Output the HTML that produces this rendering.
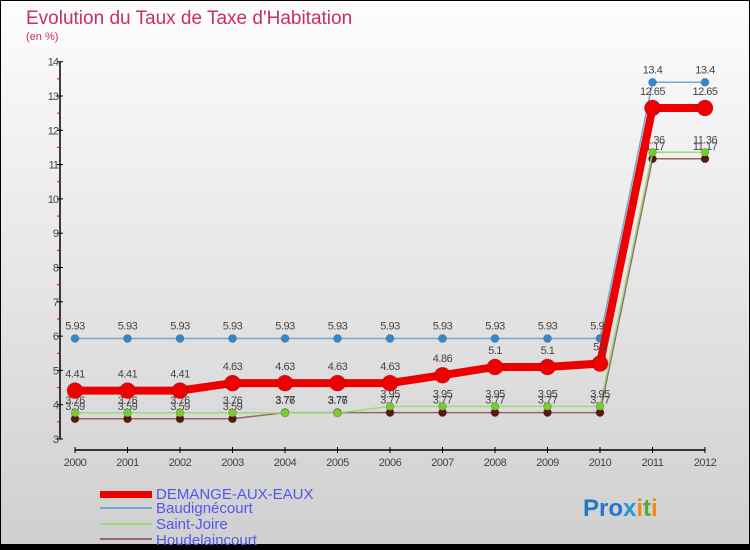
<!DOCTYPE html>
<html><head><meta charset="utf-8"><style>
body{margin:0;}
#wrap{width:750px;height:550px;position:relative;overflow:hidden;font-family:"Liberation Sans",sans-serif;}
</style></head><body>
<div id="wrap">
<svg id="chart" width="750" height="550" xmlns="http://www.w3.org/2000/svg">
<defs><linearGradient id="bg" x1="0" y1="0" x2="0" y2="1"><stop offset="0" stop-color="#fdfdfd"/><stop offset="1" stop-color="#cfcfcf"/></linearGradient></defs>
<rect x="0.5" y="0.5" width="749" height="549" fill="url(#bg)" stroke="#000"/>
<rect x="0" y="544" width="750" height="6" fill="#000"/>
<text x="26" y="24" font-size="19" fill="#c8305f">Evolution du Taux de Taxe d'Habitation</text>
<text x="26" y="40" font-size="11" fill="#c8305f">(en %)</text>
<g id="axes"></g><g id="series"></g>
<g>
<rect x="100" y="491" width="52" height="7" fill="#ee0000"/>
<text x="156" y="499" font-size="15" fill="#5555ee">DEMANGE-AUX-EAUX</text>
<line x1="100" y1="508" x2="152" y2="508" stroke="#7aa6cc" stroke-width="2"/>
<text x="156" y="513" font-size="15" fill="#5555ee">Baudignécourt</text>
<line x1="100" y1="524" x2="152" y2="524" stroke="#99dd77" stroke-width="2"/>
<text x="156" y="529" font-size="15" fill="#5555ee">Saint-Joire</text>
<line x1="100" y1="539" x2="152" y2="539" stroke="#996666" stroke-width="2"/>
<text x="156" y="545" font-size="15" fill="#5555ee">Houdelaincourt</text>
</g>
<text x="583" y="516" font-size="24" font-weight="bold"><tspan fill="#2277cc">Pro</tspan><tspan fill="#2299dd">x</tspan><tspan fill="#ee8822">i</tspan><tspan fill="#55aa33">t</tspan><tspan fill="#ee8822">i</tspan></text>
</svg></div>
<script>
const years=[2000,2001,2002,2003,2004,2005,2006,2007,2008,2009,2010,2011,2012];
const demange=[4.41,4.41,4.41,4.63,4.63,4.63,4.63,4.86,5.1,5.1,5.2,12.65,12.65];
const baudignecourt=[5.93,5.93,5.93,5.93,5.93,5.93,5.93,5.93,5.93,5.93,5.93,13.4,13.4];
const saintJoire=[3.76,3.76,3.76,3.76,3.76,3.76,3.95,3.95,3.95,3.95,3.95,11.36,11.36];
const houdelaincourt=[3.59,3.59,3.59,3.59,3.77,3.77,3.77,3.77,3.77,3.77,3.77,11.17,11.17];
const yTicks=[3,4,5,6,7,8,9,10,11,12,13,14];
const NS="http://www.w3.org/2000/svg";
const xS=i=>75+i*52.5;
const yS=v=>439-(v-3)*34.3;
function mk(tag,attrs,parent){const e=document.createElementNS(NS,tag);for(const k in attrs)e.setAttribute(k,attrs[k]);parent.appendChild(e);return e;}
const ax=document.getElementById('axes');
let l=mk('line',{x1:60,y1:yS(14),x2:60,y2:yS(3),stroke:'#000','stroke-width':1.5},ax);


yTicks.forEach(v=>{
 let t=mk('line',{x1:57,y1:yS(v),x2:63,y2:yS(v),stroke:'#000'},ax);
 
 
 let tx=mk('text',{x:58,y:yS(v)+4,'font-size':11,fill:'#444','text-anchor':'end','letter-spacing':'-1'},ax);
 tx.textContent=v;
 
 
 if(v<14){let m=mk('line',{x1:57,y1:yS(v+0.5),x2:60,y2:yS(v+0.5),stroke:'#ee0000'},ax);
 
 }
});
l=mk('line',{x1:xS(0),y1:450,x2:xS(12),y2:450,stroke:'#000','stroke-width':1.5},ax);


years.forEach((y,i)=>{
 let t=mk('line',{x1:xS(i),y1:447,x2:xS(i),y2:453,stroke:'#000'},ax);
 
 
 let tx=mk('text',{x:xS(i),y:466,'font-size':11,fill:'#444','text-anchor':'middle','letter-spacing':'-0.5'},ax);
 tx.textContent=y;
 
 
});
const sg=document.getElementById('series');
function drawSeries(vals,color,lw,r,name,dotStroke){
 const g=mk('g',{},sg);
 
 
 const p=mk('polyline',{points:vals.map((v,i)=>xS(i)+','+yS(v)).join(' '),fill:'none',stroke:color,'stroke-width':lw},g);
 
 
 vals.forEach((v,i)=>{
  const c=mk('circle',{cx:xS(i),cy:yS(v),r:r,fill:dotStroke,stroke:'rgba(0,0,0,0.15)'},g);
  
  
  const t=mk('text',{x:xS(i),y:yS(v)-(r+5),'font-size':11,fill:'#444','text-anchor':'middle','letter-spacing':'-0.5'},g);
  t.textContent=String(v);
  
  
 });
}
drawSeries(houdelaincourt,'#996666',1.5,4,'houdelaincourt','#5a1515');
drawSeries(saintJoire,'#99dd77',1.5,4,'saint-joire','#77cc33');
drawSeries(baudignecourt,'#7aa6cc',1.5,4,'baudignecourt','#3388cc');
drawSeries(demange,'#ee0000',8,8,'demange','#ee0000');
</script>
</body></html>
